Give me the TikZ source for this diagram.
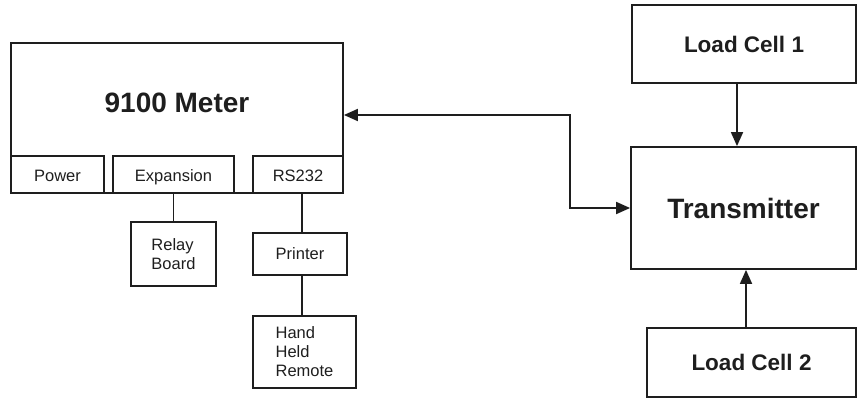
\documentclass[tikz,border=0pt]{standalone}
\usepackage{fontspec}
\setmainfont{Liberation Sans}
\definecolor{inkgray}{RGB}{30,30,30}
\usepackage{tikz}
\usetikzlibrary{positioning,arrows.meta}

\begin{document}
\begin{tikzpicture}[x=1pt, y=-1pt,
    box/.style={draw=inkgray, line width=1.8pt, inner sep=0pt, align=center, text=inkgray, font=\fontsize{16.5}{19}\selectfont},
    port/.style={box, text height=13pt, text depth=0pt, minimum height=37},
    bigtext/.style={font=\fontsize{28}{32}\selectfont\bfseries, text=inkgray},
    celltext/.style={font=\fontsize{22.5}{26}\selectfont\bfseries},
    link/.style={draw=inkgray, line width=1.8pt},
    arr/.style={link, -{Triangle[length=14pt,width=12pt]}},
    biarr/.style={link, {Triangle[length=14pt,width=12pt]}-{Triangle[length=14pt,width=12pt]}}]
    \useasboundingbox (0,0) rectangle (858,406);

    % meter with its ports
    \node[box, minimum width=332, minimum height=150] (meter) at (177,118) {};
    \node[bigtext] (metertext) at (177,103) {9100 Meter};
    \node[port, minimum width=93] (power) at (57.5,174.5) {Power};
    \node[port, minimum width=121] (expansion) at (173.5,174.5) {Expansion};
    \node[port, minimum width=90] (rs232) at (298,174.5) {RS232};

    \node[box, align=left, minimum width=85, minimum height=64] (relay) at (173.5,254) {Relay\\Board};
    \node[box, minimum width=94, minimum height=42] (printer) at (300,254) {Printer};
    \node[box, align=left, minimum width=103, minimum height=72] (remote) at (304.5,352) {Hand\\Held\\Remote};

    \draw[link] (expansion.south) -- (relay.north);
    \draw[link] ([xshift=2pt]printer.north) -- ([xshift=2pt]printer.north |- rs232.south);
    \draw[link] ([xshift=2pt]printer.south) -- ([xshift=2pt]printer.south |- remote.north);

    % transmitter side
    \node[box, celltext, minimum width=224, minimum height=78] (cell1) at (744,44) {Load Cell 1};
    \node[box, bigtext, minimum width=225, minimum height=122] (trans) at (743.5,208) {Transmitter};
    \node[box, celltext, minimum width=209, minimum height=69] (cell2) at (751.5,362.5) {Load Cell 2};

    \draw[arr] ([xshift=-7pt]cell1.south) -- ([xshift=-7pt]cell1.south |- trans.north);
    \draw[arr] ([xshift=-5.5pt]cell2.north) -- ([xshift=-5.5pt]cell2.north |- trans.south);
    \draw[biarr] ([yshift=3pt]meter.east) -- ++(226,0) |- (trans.west);
\end{tikzpicture}
\end{document}
